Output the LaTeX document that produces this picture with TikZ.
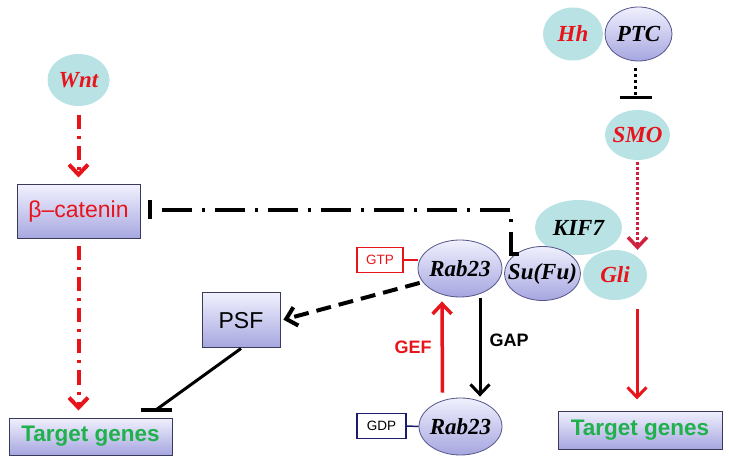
\documentclass[tikz,border=0pt]{standalone}
\usepackage{fontspec}
\setmainfont{Liberation Sans}
\newfontfamily\tnr{Liberation Serif}
\usetikzlibrary{shapes.geometric,arrows.meta}
\definecolor{cyanfill}{HTML}{B9E2E4}
\definecolor{lavtop}{HTML}{F0F0FE}
\definecolor{lavbot}{HTML}{A6A6E0}
\definecolor{lavedge}{HTML}{55558A}
\definecolor{boxedge}{HTML}{3A3A5A}
\definecolor{myred}{HTML}{E8141C}
\definecolor{dred}{HTML}{D0203C}
\definecolor{mygreen}{HTML}{20B04C}
\definecolor{navy}{HTML}{1C1C6C}
\begin{document}
\begin{tikzpicture}[x=1pt,y=-1pt,
  cyanell/.style={ellipse, fill=cyanfill, inner sep=0pt},
  lavell/.style={ellipse, draw=lavedge, line width=0.8pt, top color=lavtop, bottom color=lavbot, inner sep=0pt},
  lavbox/.style={rectangle, draw=boxedge, line width=1pt, top color=lavtop, bottom color=lavbot, inner sep=0pt},
  eltext/.style={font=\tnr\bfseries\itshape\fontsize{23}{25}\selectfont, inner sep=0pt},
  boxtext/.style={font=\fontsize{23}{25}\selectfont},
  tgtext/.style={font=\bfseries\fontsize{22.5}{25}\selectfont, text=mygreen},
  smalltext/.style={font=\fontsize{13.5}{15}\selectfont},
  vtip/.style={-{Straight Barb[length=10pt,width=19pt]}},
  reddashdot/.style={draw=myred, line width=4pt, dash pattern=on 14pt off 7pt on 3pt off 7pt, vtip},
  blackdashdot/.style={draw=black, line width=4pt, dash pattern=on 30pt off 10pt on 3pt off 10pt},
]
\useasboundingbox (0,0) rectangle (729,465);

% ---------- Wnt branch ----------
\node[cyanell, minimum width=62, minimum height=52] (wnt) at (78.5,80) {};
\node[eltext, text=myred] (wntt) at (wnt) {Wnt};
\node[lavbox, minimum width=123, minimum height=54] (bcat) at (78.5,212) {};
\node[boxtext, text=myred] (bcatt) at (bcat) {β–catenin};
\node[lavbox, minimum width=163, minimum height=37] (tgl) at (90.5,436.5) {};
\node[tgtext] (tglt) at (tgl) {Target genes};
\node[lavbox, minimum width=78, minimum height=55] (psf) at (241,320.5) {};
\node[boxtext] (psft) at (psf) {PSF};

\draw[reddashdot, shorten <=9pt, shorten >=7pt] (wnt.south) -- (bcat.north);
\draw[reddashdot, shorten <=7pt, shorten >=7pt] (bcat.south) -- (bcat.south |- tgl.north);

% ---------- Hh branch ----------
\node[cyanell, minimum width=60, minimum height=53] (hh) at (573,34) {};
\node[eltext, text=myred] (hht) at (hh) {Hh};
\node[lavell, minimum width=67, minimum height=54] (ptc) at (638.5,34) {};
\node[eltext] (ptct) at (ptc) {PTC};
\node[cyanell, minimum width=65, minimum height=50] (smo) at (637.5,135) {};
\node[eltext, text=myred] (smot) at (smo) {SMO};

\node[cyanell, minimum width=87, minimum height=55] (kif) at (578.5,227.5) {};
\node[eltext] (kift) at (kif) {KIF7};
\node[cyanell, minimum width=64, minimum height=50] (gli) at (615,275) {};
\node[eltext, text=myred] (glit) at (gli) {Gli};
\node[lavell, minimum width=76, minimum height=54] (sufu) at (542.5,273.5) {};
\node[eltext] (sufut) at (sufu) {Su(Fu)};
\node[lavell, minimum width=84, minimum height=57] (rabt) at (460,268.5) {};
\node[eltext] (rabtt) at (rabt) {Rab23};
\node[lavell, minimum width=83, minimum height=57] (rabb) at (460.5,426.5) {};
\node[eltext] (rabbt) at (rabb) {Rab23};

\node[rectangle, draw=myred, line width=1.6pt, minimum width=46, minimum height=25, inner sep=0pt, smalltext, text=myred] (gtp) at (380,260) {GTP};
\node[rectangle, draw=navy, line width=1.6pt, minimum width=49, minimum height=25, inner sep=0pt, smalltext] (gdp) at (381.5,426) {GDP};

\node[lavbox, minimum width=164, minimum height=38] (tgr) at (640,430) {};
\node[tgtext] (tgrt) at (tgr) {Target genes};

% PTC -| SMO
\draw[line width=3pt, dash pattern=on 3pt off 3pt, -{Bar[width=32pt,line width=3pt]}, shorten <=7pt, shorten >=11pt]
  ([shift={(-3,0)}]ptc.south) -- ([shift={(-3,0)}]ptc.south |- smo.north);
% SMO -> Gli
\draw[draw=dred, line width=3.5pt, dash pattern=on 3pt off 2pt, vtip, shorten <=2pt]
  (smo.south) -- (smo.south |- gli.north);
% Gli -> target genes
\draw[draw=myred, line width=3pt, vtip] ([shift={(-3,-101)}]tgr.north) -- ([shift={(-3,-11)}]tgr.north);

% GTP / GDP links
\draw[draw=myred, line width=1.5pt] (gtp.east) -- (gtp.east -| rabt.west);
\draw[draw=navy, line width=1.5pt] (gdp.east) -- (rabb.west);

% GEF / GAP
\draw[draw=myred, line width=3.5pt, vtip] ([shift={(-18,-5)}]rabb.north) -- ([shift={(-18,4)}]rabt.south);
\draw[draw=black, line width=3pt, vtip] ([shift={(20,1)}]rabt.south) -- ([shift={(19.5,-1)}]rabb.north);
\node[font=\bfseries\fontsize{18}{20}\selectfont, text=myred] (gef) at (413,347) {GEF};
\node[font=\bfseries\fontsize{18}{20}\selectfont] (gap) at (509,340) {GAP};

% Rab23 -> PSF
\draw[line width=4pt, dash pattern=on 15pt off 8pt, vtip, shorten <=3pt, shorten >=3pt] (rabt.200) -- (psf.east);

% PSF -| target genes
\coordinate (tbar) at ([shift={(66,-8)}]tgl.north);
\draw[line width=3pt] (psf.south) -- (tbar);
\draw[line width=4pt] ([shift={(-16,0)}]tbar) -- ([shift={(15,0)}]tbar);

% Su(Fu) -| beta-catenin
\coordinate (dd) at ([shift={(-24,-19)}]sufu.center);
\coordinate (bbar) at ([shift={(7,-2)}]bcat.east);
\draw[blackdashdot, -{Bar[width=19pt,line width=4pt]}] (dd) -- ++(-8,0) |- (bbar);
\end{tikzpicture}
\end{document}
